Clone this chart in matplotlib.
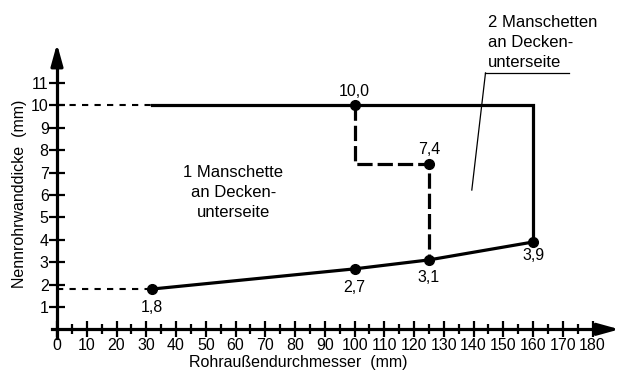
import matplotlib
matplotlib.use("Agg")
import matplotlib.pyplot as plt
from matplotlib.ticker import FixedLocator

plt.rcParams['font.family'] = ['Liberation Sans', 'DejaVu Sans']
plt.rcParams['lines.scale_dashes'] = False

# Data
lower_x = [32, 100, 125, 160]
lower_y = [1.8, 2.7, 3.1, 3.9]
upper_x = [32, 160, 160]
upper_y = [10.0, 10.0, 3.9]
step_x = [100, 100, 125, 125]
step_y = [10.0, 7.4, 7.4, 3.1]
ref_y = [10.0, 1.8]
ref_x_end = 32
extra_pts_x = [100, 125]
extra_pts_y = [10.0, 7.4]
label_x = [32, 100, 125, 160, 100, 125]
label_y = [1.8, 2.7, 3.1, 3.9, 10.0, 7.4]
label_txt = ['1,8', '2,7', '3,1', '3,9', '10,0', '7,4']
label_off = [-13, -13.5, -13, -10, 10, 10]   # points, vertical

x_major = list(range(0, 181, 10))
x_minor = list(range(5, 180, 10))
y_major = list(range(1, 12))

fig = plt.figure(figsize=(6.22, 3.74), dpi=100)
ax = fig.add_axes([40/622, (374-345)/374, 580/622, 305/374])
ax.set_xlim(-5.71, 189.2)
ax.set_ylim(-0.70, 12.92)

for s in ['top', 'right']:
    ax.spines[s].set_visible(False)
ax.spines['left'].set_position(('data', 0))
ax.spines['bottom'].set_position(('data', 0))
ax.spines['left'].set_bounds(-0.4, 12.2)
ax.spines['bottom'].set_bounds(-1.7, 184)
for s in ['left', 'bottom']:
    ax.spines[s].set_linewidth(2.3)

ax.xaxis.set_major_locator(FixedLocator(x_major))
ax.xaxis.set_minor_locator(FixedLocator(x_minor))
ax.yaxis.set_major_locator(FixedLocator(y_major))
ax.set_xticklabels([str(v) for v in x_major])
ax.set_yticklabels([str(v) for v in y_major])
ax.tick_params(axis='x', which='major', direction='inout', length=11, width=1.6, labelsize=11.5, pad=1)
ax.tick_params(axis='x', which='minor', direction='inout', length=6.5, width=1.6)
ax.tick_params(axis='y', which='major', direction='inout', length=12, width=1.6, labelsize=11.5, pad=0)

# Arrows
arrow_style = '-|>,head_length=1.3,head_width=0.36'
ax.annotate('', xy=(189.0, 0), xytext=(182, 0),
            arrowprops=dict(arrowstyle=arrow_style, mutation_scale=10,
                            lw=2.3, color='black', shrinkA=0, shrinkB=0),
            annotation_clip=False)
ax.annotate('', xy=(0, 12.75), xytext=(0, 12.0),
            arrowprops=dict(arrowstyle=arrow_style, mutation_scale=10,
                            lw=2.3, color='black', shrinkA=0, shrinkB=0),
            annotation_clip=False)

# Reference dashed lines
for yv in ref_y:
    ax.plot([0, ref_x_end], [yv, yv], color='black', lw=1.5, linestyle=(0, (4.5, 4.5)))

# Main lines
ax.plot(upper_x, upper_y, color='black', lw=2.3, solid_joinstyle='miter')
ax.plot(lower_x, lower_y, color='black', lw=2.3)
ax.plot(step_x, step_y, color='black', lw=2.3, linestyle=(0, (11, 3.6)))

# Points
ax.plot(lower_x, lower_y, 'o', color='black', markersize=7)
ax.plot(extra_pts_x, extra_pts_y, 'o', color='black', markersize=7)

for x, y, t, off in zip(label_x, label_y, label_txt, label_off):
    ax.annotate(t, xy=(x, y), xytext=(0, off), textcoords='offset points',
                ha='center', va='center', fontsize=11.5)

# Region texts
ax.text(59.3, 6.1, '1 Manschette\nan Decken-\nunterseite', ha='center', va='center',
        fontsize=12, linespacing=1.4)
ax.text(144.7, 12.8, '2 Manschetten\nan Decken-\nunterseite', ha='left', va='center',
        fontsize=12, linespacing=1.4, clip_on=False)
ax.plot([144.0, 171.9], [11.45, 11.45], color='black', lw=0.9, clip_on=False)
ax.plot([144.0, 139.4], [11.45, 6.22], color='black', lw=0.9, clip_on=False)

fig.text(298/622, 1-363/374, 'Rohraußendurchmesser  (mm)', ha='center', va='center', fontsize=11.5)
fig.text(20/622, 1-194/374, 'Nennrohrwanddicke  (mm)', ha='center', va='center', rotation=90, fontsize=11.5)

fig.savefig('out.png', dpi=100)
